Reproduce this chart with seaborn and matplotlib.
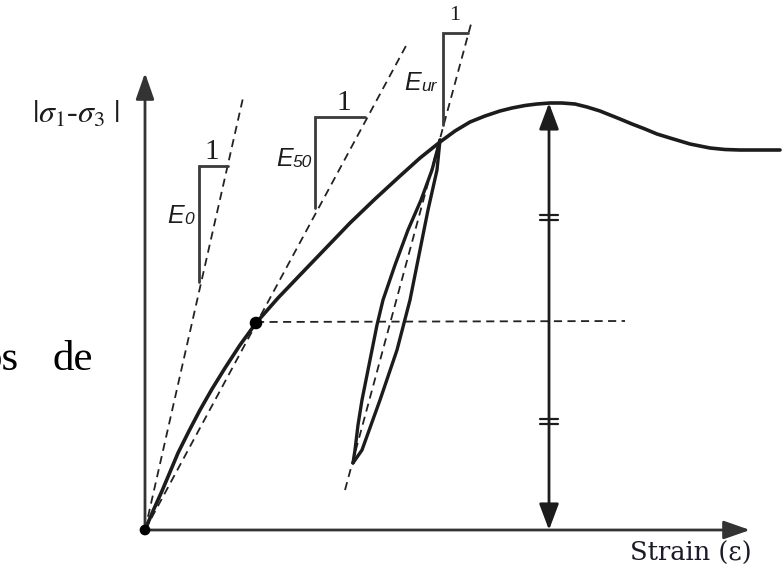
import matplotlib
matplotlib.use("Agg")
import matplotlib.pyplot as plt
import seaborn as sns
import pandas as pd

# pixel-space schematic (x right, y down)
origen = (145, 530)
punto_50 = (256, 323)

curva_x = [145, 153, 162, 170, 178, 189, 200, 212, 225, 240, 256, 278, 300, 325,
           350, 375, 400, 420, 440, 455, 470, 485, 500, 512, 525, 537, 550, 562,
           575, 587, 600, 610, 620, 632, 645, 657, 670, 680, 690, 700, 710, 725,
           740, 760, 780]
curva_y = [530, 511, 491, 472, 453, 431, 410, 389, 368, 345, 323, 298, 275, 249,
           223, 199, 176, 158, 142, 131, 122, 116, 111, 108, 105.5, 104, 103, 103,
           104, 107, 111, 115, 119, 124, 129, 134, 138, 141, 144, 146, 148, 149.5,
           150, 150, 150]

lazo_izq_x = [353, 355, 358, 362, 367, 372, 377, 383, 395, 408, 421, 432, 440]
lazo_izq_y = [463, 450, 425, 400, 375, 350, 325, 300, 265, 230, 200, 170, 140]
lazo_der_x = [353, 362, 380, 397, 410, 420, 428, 437, 440]
lazo_der_y = [463, 450, 400, 350, 300, 250, 210, 170, 140]

# dashed reference lines: (x0, y0, x1, y1)
rectas = {
    'E0': (145, 530, 243, 98),
    'E50': (145, 530, 407, 44),
    'Eur': (345, 490, 471, 24),
    'horiz': (256, 322, 625, 321),
}

# slope triangles: bottom of vertical, corner, end of horizontal
triangulos = {
    'E0': [(199, 282), (199, 166), (228, 166)],
    'E50': [(315, 208), (315, 117), (365, 117)],
    'Eur': [(443, 125), (443, 33), (468, 33)],
}
etiquetas_E = [('E', '0', 167, 223), ('E', '50', 276, 166), ('E', 'ur', 404, 90)]
etiquetas_uno = [(212, 152, 21), (344, 103, 21), (455, 16, 16)]

sns.set_theme(style="white")
plt.rcParams['font.family'] = ['Liberation Serif', 'DejaVu Serif']

fig = plt.figure(figsize=(7.83, 5.67), dpi=100)
ax = fig.add_axes([0, 0, 1, 1])
ax.set_xlim(0, 783)
ax.set_ylim(567, 0)
ax.axis('off')

negro = '#1c1c1c'
gris = '#333333'

# axes arrows
ax.annotate('', xy=(145, 73), xytext=origen,
            arrowprops=dict(arrowstyle='-|>,head_length=0.8,head_width=0.28',
                            mutation_scale=20, lw=2, color=gris, shrinkA=0, shrinkB=0))
ax.annotate('', xy=(750, 530), xytext=origen,
            arrowprops=dict(arrowstyle='-|>,head_length=0.8,head_width=0.28',
                            mutation_scale=20, lw=2, color=gris, shrinkA=0, shrinkB=0))

# dashed lines
for x0, y0, x1, y1 in rectas.values():
    ax.plot([x0, x1], [y0, y1], ls=(0, (4.5, 3)), lw=1.3, color='#222222')

# main stress-strain curve
df_curva = pd.DataFrame({'x': curva_x, 'y': curva_y})
sns.lineplot(data=df_curva, x='x', y='y', sort=False, ax=ax, color=negro, lw=2.6)

# unload/reload loop
sns.lineplot(x=lazo_izq_x, y=lazo_izq_y, sort=False, ax=ax, color=negro, lw=2.4)
sns.lineplot(x=lazo_der_x, y=lazo_der_y, sort=False, ax=ax, color=negro, lw=2.4)

# slope triangles
for pts in triangulos.values():
    xs, ys = zip(*pts)
    ax.plot(xs, ys, color='#3a3a3a', lw=2, solid_joinstyle='miter')

# peak double arrow
ax.annotate('', xy=(549, 103), xytext=(549, 530),
            arrowprops=dict(arrowstyle='<|-|>,head_length=0.8,head_width=0.3',
                            mutation_scale=20, lw=2, color=negro, shrinkA=0, shrinkB=0))
for yc in (217, 421):
    for d in (-2.5, 2.5):
        ax.plot([540, 558], [yc + d, yc + d], color=negro, lw=1.6)

# points
ax.scatter([origen[0], punto_50[0]], [origen[1], punto_50[1]],
           s=[45, 65], color='black', zorder=5)

# labels
for e, sub, x, y in etiquetas_E:
    ax.text(x, y, e, family='Liberation Sans', style='italic', fontsize=18,
            ha='left', va='baseline', color=negro)
    ax.text(x + 17, y + 1, sub, family='Liberation Sans', style='italic', fontsize=12.5,
            ha='left', va='baseline', color=negro)
for x, y, fs in etiquetas_uno:
    ax.text(x, y, '1', fontsize=fs, ha='center', va='center', color=negro)

ax.text(76, 115, r'$|\sigma_1$-$\sigma_3\ |$', math_fontfamily='stix', fontsize=23,
        ha='center', va='center', color=negro)
ax.text(752, 553, 'Strain (ε)', family='DejaVu Serif', fontsize=18.5,
        ha='right', va='center', color='#1a1a2a')
ax.text(52, 370, 'de', fontsize=31, ha='left', va='baseline', color='black')
ax.text(19, 370, 'os', fontsize=31, ha='right', va='baseline', color='black')

fig.savefig('out.png', dpi=100)
